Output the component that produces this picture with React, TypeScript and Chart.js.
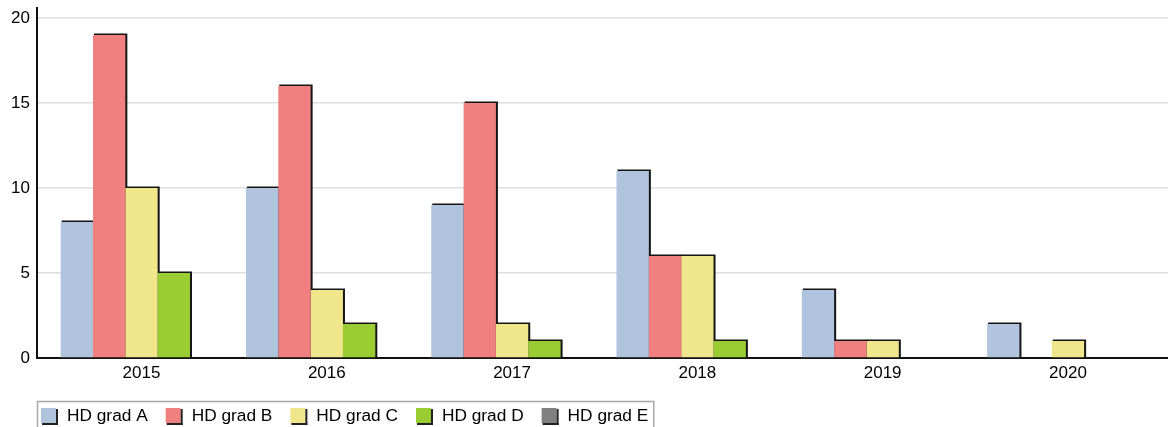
import React, { useEffect, useRef } from 'react';
import { Chart, registerables } from 'chart.js';

Chart.register(...registerables);

// ---- data ----
const years = ['2015', '2016', '2017', '2018', '2019', '2020'];
const seriesNames = ['HD grad A', 'HD grad B', 'HD grad C', 'HD grad D', 'HD grad E'];
const gradeA = [8, 10, 9, 11, 4, 2];
const gradeB = [19, 16, 15, 6, 1, 0];
const gradeC = [10, 4, 2, 6, 1, 1];
const gradeD = [5, 2, 1, 1, 0, 0];
const gradeE = [0, 0, 0, 0, 0, 0];
const yTickValues = [0, 5, 10, 15, 20];

// ---- style ----
const seriesColors = ['#B0C4DE', '#F08080', '#F0E68C', '#9ACD32', '#808080'];
const FONT = '"Liberation Sans", Arial, sans-serif';

const shadowPlugin = {
  id: 'barShadow',
  beforeDatasetsDraw(chart: any) {
    const ctx = chart.ctx;
    ctx.save();
    ctx.fillStyle = '#151515';
    chart.data.datasets.forEach((_ds: any, i: number) => {
      const meta = chart.getDatasetMeta(i);
      if (meta.hidden) return;
      meta.data.forEach((el: any) => {
        const { x, y, base, width } = el.getProps(['x', 'y', 'base', 'width'], true);
        const h = base - y;
        if (h <= 0.5) return;
        const left = x - width / 2;
        ctx.fillRect(left + 1, y - 1.5, width + 1, h + 1.5);
      });
    });
    ctx.restore();
  },
};

const boxLegendPlugin = {
  id: 'boxLegend',
  afterDraw(chart: any) {
    const ctx = chart.ctx;
    const left = chart.chartArea.left;
    const top = 401;
    ctx.save();
    ctx.font = `17.3px ${FONT}`;
    ctx.textBaseline = 'alphabetic';
    ctx.textAlign = 'left';
    let cursor = left + 4;
    chart.data.datasets.forEach((ds: any) => {
      const bx = cursor;
      const by = 408;
      ctx.fillStyle = ds.backgroundColor;
      ctx.fillRect(bx, by, 15, 15);
      ctx.fillStyle = '#222';
      ctx.fillRect(bx + 15, by + 1, 2, 16);
      ctx.fillRect(bx + 1, by + 15, 16, 2);
      ctx.fillStyle = '#000';
      const tx = bx + 26;
      ctx.fillText(ds.label, tx, 421);
      const w = ctx.measureText(ds.label).width;
      cursor = tx + w + 18;
    });
    const right = cursor - 18 + 5;
    ctx.strokeStyle = '#a8a8a8';
    ctx.lineWidth = 1.5;
    ctx.strokeRect(left + 0.5, top + 0.5, right - left, 60);
    ctx.restore();
  },
};

export default function App() {
  const canvasRef = useRef<HTMLCanvasElement | null>(null);

  useEffect(() => {
    if (!canvasRef.current) return;
    const seriesValues = [gradeA, gradeB, gradeC, gradeD, gradeE];
    const chart = new Chart(canvasRef.current, {
      type: 'bar',
      data: {
        datasets: seriesValues.map((vals, s) => ({
          label: seriesNames[s],
          data: vals.map((v, i) => ({ x: i + 1, y: v })),
          backgroundColor: seriesColors[s],
          borderWidth: 0,
          categoryPercentage: 0.8726,
          barPercentage: 1,
        })),
      },
      options: {
        responsive: false,
        animation: false,
        devicePixelRatio: 1,
        layout: { padding: { top: 8, left: 0, right: 0, bottom: 0 } },
        plugins: {
          legend: { display: false },
          tooltip: { enabled: false },
        },
        scales: {
          x: {
            type: 'linear',
            min: 0.436,
            max: 6.54,
            offset: false,
            z: 1,
            grid: { display: false, drawTicks: false },
            border: { display: true, color: '#111', width: 2 },
            afterBuildTicks: (scale: any) => {
              scale.ticks = years.map((_y, i) => ({ value: i + 1 }));
            },
            afterFit: (scale: any) => {
              scale.height = 69;
              scale.paddingLeft = 0;
              scale.paddingRight = 0;
            },
            ticks: {
              autoSkip: false,
              maxRotation: 0,
              padding: 5,
              color: '#000',
              font: { family: FONT, size: 17 },
              callback: (v: any) => years[Math.round(v) - 1] ?? '',
            },
          },
          y: {
            type: 'linear',
            min: 0,
            max: 20.588,
            grid: { color: '#dedede', lineWidth: 1.5, drawTicks: false },
            border: { display: true, color: '#111', width: 2 },
            afterBuildTicks: (scale: any) => {
              scale.ticks = yTickValues.map((v) => ({ value: v }));
            },
            afterFit: (scale: any) => {
              scale.width = 37;
              scale.paddingTop = 0;
              scale.paddingBottom = 0;
            },
            ticks: {
              padding: 7,
              color: '#000',
              font: { family: FONT, size: 17 },
            },
          },
        },
      },
      plugins: [shadowPlugin, boxLegendPlugin],
    } as any);
    return () => chart.destroy();
  }, []);

  return (
    <div style={{ position: 'absolute', left: 0, top: 0, width: 1168, height: 427, background: '#fff' }}>
      <canvas ref={canvasRef} width={1168} height={427} style={{ display: 'block' }} />
    </div>
  );
}
